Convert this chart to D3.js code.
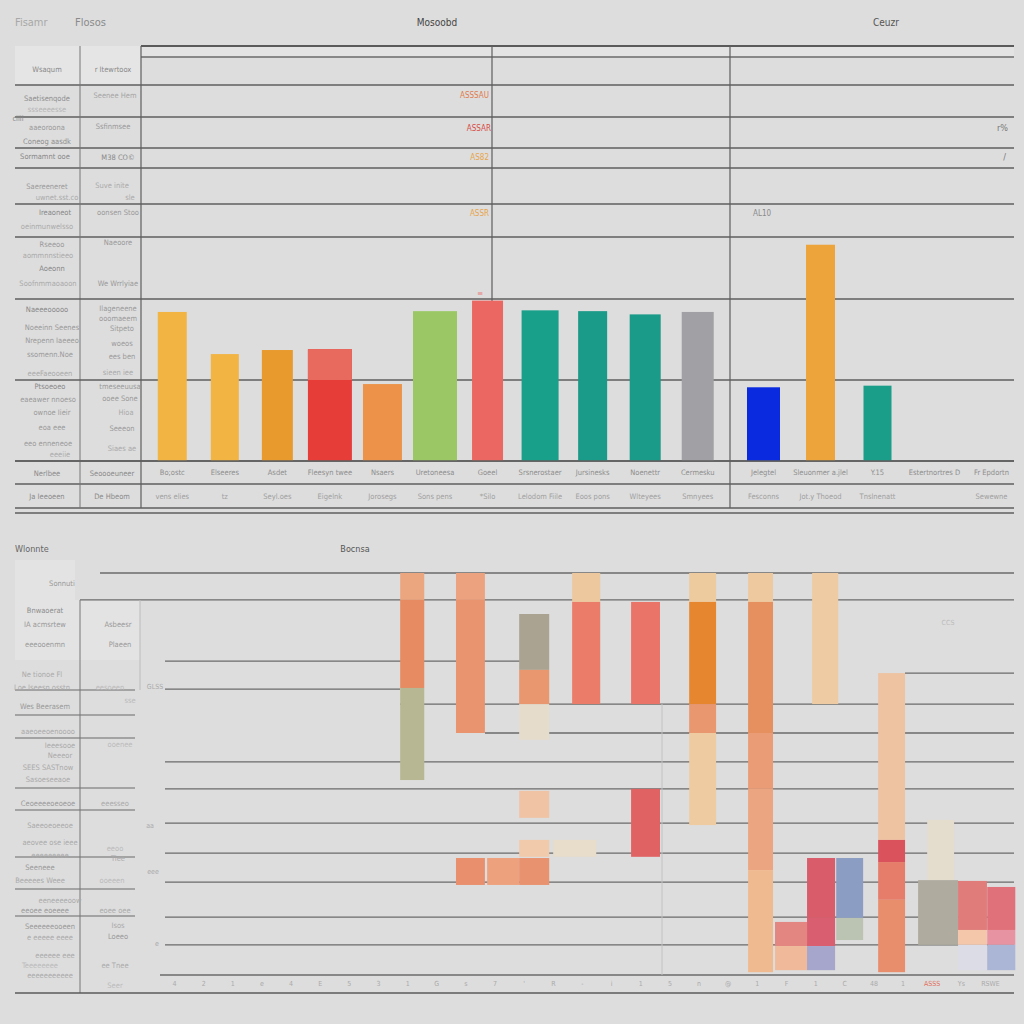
<!DOCTYPE html>
<html><head><meta charset="utf-8">
<script src="https://cdn.jsdelivr.net/npm/d3@7"></script>
<style>
body{margin:0;background:#dddddd}
svg{display:block}
text{font-family:'Liberation Sans Narrow','DejaVu Sans Condensed','Liberation Sans',sans-serif}
</style></head>
<body><svg id="c" width="1024" height="1024"></svg>
<script>
// ---------- DATA: top chart ----------
const topCategories = ["Bo;ostc","Elseeres","Asdet","Fleesyn twee","Nsaers","Uretoneesa","Goeel","Srsnerostaer","Jursinesks","Noenettr","Cermesku","Jelegtel","Sleuonmer a.jlel","Y.15","Estertnortres D","Fr Epdortn"];
const topSubLabels = ["vens elies","tz","Seyl.oes","Eigelnk","Jorosegs","Sons pens","*Silo","Lelodom Fiile","Eoos pons","Wlteyees","Smnyees","Fesconns","Jot.y Thoeod","Tnslnenatt","","Sewewne"];
const topValues = [184,132,137,138,95,185,198,186,185,181,184,91,267,93,null,null];
const topGridValues = [0,100,200];

// ---------- DATA: bottom chart ----------
const bottomColumns = ["A","B","BC","C","CD","D","E","F","G","K1","K2","H","K3","I","R1","R1b","R2","R3"];
const columnStart = [8.30,10.27,11.37,12.50,13.70,14.37,16.45,18.50,20.58,21.53,22.66,22.84,23.69,25.17,26.58,26.90,27.99,29.02];
const columnWidth = [0.85,1.02,1.13,1.06,1.52,0.99,1.02,0.95,0.88,1.13,0.99,0.92,0.95,0.95,1.41,0.95,1.02,0.99];
const segColumn = ["C","CD","R1b","A","A","A","B","B","B","BC","C","C","C","C","C","D","D","E","E","F","F","F","F","G","G","G","G","G","K1","K1","K2","K2","K2","H","K3","K3","I","I","I","I","R1","R2","R2","R2","R3","R3","R3"];
const segLow  = [58.5,29.4,23.6, 93.3,71.4,48.5, 93.3,60.2,22.4, 22.4, 75.9,67.4,39.1,29.4,22.4, 92.8,67.4, 67.4,29.4, 92.8,67.4,60.2,37.3, 92.8,60.2,46.3,26.1,0.7, 7.2,1.2, 14.2,7.2,1.2, 67.4, 14.2,8.7, 33.6,28.1,18.7,0.7, 7.5, 11.2,7.5,1.2, 11.2,7.5,1.2];
const segHigh = [67.4,33.6,38.6, 100,93.3,71.4, 100,93.3,29.1, 29.1, 89.8,75.9,45.8,33.6,29.1, 100,92.8, 92.8,46.3, 100,92.8,67.4,60.2, 100,92.8,60.2,46.3,26.1, 13.2,7.2, 29.1,14.2,7.2, 100, 29.1,14.2, 75.1,33.6,28.1,18.7, 23.6, 23.4,11.2,7.5, 21.9,11.2,7.5];
const bottomGridValues = [100,93.3,78.1,75.1,71.1,67.4,60.2,53.0,46.3,37.8,30.3,23.1,14.4,7.5,0];
const bottomTickLabels = ["4","2","1","e","4","E","5","3","1","G","s","7","'","R","-","i","1","5","n","@","1","F","1","C","48","1","ASSS","Ys","RSWE"];

// ---------- STYLE ----------
const topColors = ["#f2b443","#f2b443","#e99a2d","#e63d39","#ec9349","#9bc864","#ea6861","#18a08b","#1a9a88","#1a9a88","#a1a0a4","#0a2ae0","#eca43b","#1a9e8a"];
const topUpperColors = [null,null,null,"#e8695d",null,null,null,null,null,null,null,null,null,null];
const topBarWidths = [29,28,31,44,39,44,31,37,29,31,32,33,29,28];
const segColors = ["#e6dccc","#e8dccb","#e4dccd","#eba680","#e68b62","#b8b794","#eca27f","#e9936f","#e98f6d","#eea17d","#aaa391","#e9976f","#f0c3a4","#f1caab","#e8926f","#edc89f","#eb7c69","#eb7468","#e06262","#eeca9f","#e6862f","#e9976f","#efcba2","#eec99f","#e69060","#e99c76","#eba580","#f0ba90","#e38682","#f0ba9a","#d95c6b","#d95e70","#a6a6cc","#eecba2","#8b9dc2","#bbc3b2","#eec3a2","#d9525c","#e67d6b","#e88e6c","#afab9e","#e07c7a","#f4c6aa","#dcdce6","#e07079","#e893a2","#abb5d5"];
const gridX0 = [100,80,165,905,165,400,485,165,165,165,165,165,165,165,160];
const gridX1 = [1014,1014,520,1014,400,1014,1014,1014,1014,1014,1014,1014,1014,1014,1014];

const svg = d3.select("#c");
const LINE = "#5e5e5e";
function txt(x,y,s,o={}){
  return svg.append("text").attr("x",x).attr("y",y).text(s)
    .attr("font-size",o.size||8).attr("fill",o.fill||"#9a9a9a")
    .attr("text-anchor",o.anchor||"middle").attr("font-weight",o.weight||"normal");
}
function hline(y,x0,x1,w,c){svg.append("line").attr("x1",x0).attr("x2",x1).attr("y1",y).attr("y2",y).attr("stroke",c||LINE).attr("stroke-width",w||1.3);}
function vline(x,y0,y1,w,c){svg.append("line").attr("x1",x).attr("x2",x).attr("y1",y0).attr("y2",y1).attr("stroke",c||LINE).attr("stroke-width",w||1.2);}

// ---------- Titles ----------
txt(15,26,"Fisamr",{size:11,fill:"#a8a8a8",anchor:"start"});
txt(75,26,"Flosos",{size:11,fill:"#8a8a8a",anchor:"start"});
txt(437,26,"Mosoobd",{size:10,fill:"#444"});
txt(886,26,"Ceuzr",{size:10,fill:"#555"});

// ---------- Top table ----------
svg.append("rect").attr("x",15).attr("y",46).attr("width",126).attr("height",39).attr("fill","#e5e5e5");
svg.append("rect").attr("x",141).attr("y",46).attr("width",873).attr("height",11).attr("fill","#e3e3e3");
const topRows = [85,117,148,168,204,237,461,484,508,513];
hline(46,141,1014,2,"#5a5a5a");
hline(57,141,1014,1.3,"#6a6a6a");
topRows.forEach(y=>hline(y,15,1014,1.4));
vline(80,46,508,1,"#777");
vline(141,46,508,1.2);
vline(492,46,301,1.2);
vline(730,46,508,1.2);

// ---------- Top chart ----------
const yTop = d3.scaleLinear().domain([0,100]).range([461,380]);
topGridValues.filter(v=>v>0).forEach(v=>hline(yTop(v),15,1014,1.4));
const xG1 = d3.scaleBand().domain(topCategories.slice(0,11)).range([146,724]);
const xG2 = d3.scaleBand().domain(topCategories.slice(11)).range([735,1020]);
const xCenter = (c,i)=> i<11 ? xG1(c)+xG1.bandwidth()/2 : xG2(c)+xG2.bandwidth()/2;

topCategories.forEach((c,i)=>{
  const v = topValues[i];
  if(v==null) return;
  const w = topBarWidths[i], cx = xCenter(c,i);
  svg.append("rect").attr("x",cx-w/2).attr("width",w)
    .attr("y",yTop(v)).attr("height",yTop(0)-yTop(v)).attr("fill",topColors[i]);
  if(topUpperColors[i] && v>100){
    svg.append("rect").attr("x",cx-w/2).attr("width",w)
      .attr("y",yTop(v)).attr("height",yTop(100)-yTop(v)).attr("fill",topUpperColors[i]);
  }
});
hline(yTop(0),15,1014,1.5);
topCategories.forEach((c,i)=>{
  txt(xCenter(c,i),475,c,{size:7.5,fill:"#8e8e8e"});
  txt(xCenter(c,i),499,topSubLabels[i],{size:7.5,fill:"#a0a0a0"});
});
txt(480,296,"≡",{size:8,fill:"#e98080"});

// value annotations
txt(489,98,"ASSSAU",{size:8,fill:"#e07a4a",anchor:"end"});
txt(491,131,"ASSAR",{size:8,fill:"#d94a42",anchor:"end"});
txt(489,160,"AS82",{size:8,fill:"#e8a448",anchor:"end"});
txt(489,216,"ASSR",{size:8,fill:"#e8a448",anchor:"end"});
txt(753,216,"AL10",{size:8,fill:"#8a8a8a",anchor:"start"});
txt(1008,131,"r%",{size:9,fill:"#777",anchor:"end"});
txt(1006,160,"/",{size:9,fill:"#777",anchor:"end"});

// left table text (top)
const L = (x,y,s,f)=>txt(x,y,s,{size:7.5,fill:f||"#9a9a9a"});
L(47,72,"Wsaqum","#8a8a8a"); L(113,72,"r Itewrtoox","#8a8a8a");
L(47,101,"Saetisenqode","#8e8e8e"); L(47,112,"ssseeeesse","#b5b5b5"); L(115,98,"Seenee Hem","#a5a5a5");
L(18,121,"ciiii","#8a8a8a"); L(47,130,"aaeoroona"); L(47,144,"Coneog aasdk","#8e8e8e"); L(113,129,"Ssfinmsee","#999");
L(45,159,"Sormamnt ooe","#888"); L(118,160,"M38 CO©","#888");
L(47,189,"Saereeneret"); L(57,200,"uwnet.sst.co","#aaa"); L(112,188,"Suve inite","#aaa"); L(130,200,"sle","#aaa");
L(55,215,"Ireaoneot","#888"); L(47,229,"oeinmunwelsso","#aaa"); L(118,215,"oonsen Stoo","#999");
L(52,247,"Rseeoo","#999"); L(48,258,"aommnnstieeo","#aaa"); L(52,271,"Aoeonn","#888"); L(48,286,"Soofnmmaoaoon","#aaa");
L(118,245,"Naeoore","#999"); L(118,286,"We Wrrlyiae","#999");
L(47,312,"Naeeeooooo","#888"); L(52,330,"Noeeinn Seenes"); L(52,343,"Nrepenn Iaeeeo"); L(50,357,"ssomenn.Noe");
L(50,376,"eeeFaeooeen","#aaa");
L(118,311,"Ilageneene"); L(118,321,"ooomaeem"); L(122,331,"Sitpeto"); L(122,346,"woeos"); L(122,359,"ees ben"); L(118,375,"sieen iee","#aaa");
L(50,389,"Ptsoeoeo","#888"); L(48,402,"eaeawer nnoeso"); L(52,415,"ownoe Iieir"); L(52,430,"eoa eee"); L(48,446,"eeo enneneoe"); L(60,457,"eeeiie","#aaa");
L(120,389,"tmeseeuusa"); L(120,401,"ooee Sone"); L(126,415,"Hioa","#aaa"); L(122,431,"Seeeon"); L(122,451,"Siaes ae","#aaa");
L(47,476,"Nerlbee","#8a8a8a"); L(112,476,"Seoooeuneer","#8a8a8a");
L(47,499,"Ja Ieeoeen","#8a8a8a"); L(112,499,"De Hbeom","#8a8a8a");

// ---------- Bottom section ----------
txt(15,552,"Wlonnte",{size:9,fill:"#666",anchor:"start"});
txt(355,552,"Bocnsa",{size:9,fill:"#555"});
svg.append("rect").attr("x",15).attr("y",560).attr("width",60).attr("height",40).attr("fill","#e3e3e3");
svg.append("rect").attr("x",15).attr("y",600).attr("width",125).attr("height",60).attr("fill","#e3e3e3");

const yBot = d3.scaleLinear().domain([0,100]).range([975,573]);
const xBot = d3.scaleLinear().domain([0,30]).range([165,1015]);

bottomGridValues.forEach((v,i)=>hline(yBot(v),gridX0[i],gridX1[i],1.3,"#6a6a6a"));
[690,715,738,788,810,857,889,916].forEach(y=>hline(y,15,135,1.2,"#6a6a6a"));
vline(80,600,993,1,"#777");
vline(140,600,690,1,"#bbb");
vline(662,704,975,1,"#c2c2c2");
hline(993,15,1014,1.6,"#5a5a5a");

segColumn.forEach((col,i)=>{
  const ci = bottomColumns.indexOf(col);
  svg.append("rect")
    .attr("x",xBot(columnStart[ci])).attr("width",xBot(columnWidth[ci])-xBot(0))
    .attr("y",yBot(segHigh[i])).attr("height",yBot(segLow[i])-yBot(segHigh[i]))
    .attr("fill",segColors[i]);
});

const xTicks = d3.scalePoint().domain(bottomTickLabels.map((d,i)=>i)).range([174,990]);
const axis = svg.append("g").attr("transform","translate(0,978)")
  .call(d3.axisBottom(xTicks).tickSize(0).tickFormat(i=>bottomTickLabels[i]));
axis.select(".domain").remove();
axis.selectAll("text").attr("font-size",7).attr("fill",(d)=>bottomTickLabels[d]==="ASSS"?"#e07060":"#aaa")
  .attr("font-family","'Liberation Sans Narrow','DejaVu Sans Condensed',sans-serif");

txt(155,689,"GLSS",{size:7,fill:"#aaa"});
txt(150,828,"aa",{size:7,fill:"#aaa"});
txt(153,874,"eee",{size:7,fill:"#aaa"});
txt(157,946,"e",{size:7,fill:"#aaa"});
txt(948,625,"CCS",{size:7,fill:"#bbb"});

const B = (x,y,s,f)=>txt(x,y,s,{size:7.5,fill:f||"#a0a0a0"});
B(62,586,"Sonnuti","#999");
B(45,613,"Bnwaoerat","#8e8e8e"); B(45,627,"IA acmsrtew","#999"); B(118,627,"Asbeesr","#999");
B(45,647,"eeeooenmn","#999"); B(120,647,"Plaeen","#999");
B(42,677,"Ne tionoe Fl","#aaa"); B(42,690,"Loe Iseesn osstn","#aaa"); B(110,690,"eesoeen","#bbb");
B(45,709,"Wes Beerasem","#999"); B(130,703,"sse","#bbb");
B(48,734,"aaeoeeoenoooo","#aaa"); B(120,747,"ooenee","#bbb");
B(60,748,"Ieeesooe","#aaa"); B(60,758,"Neeeor","#aaa");
B(48,770,"SEES SASTnow","#aaa"); B(48,782,"Sasoeseeaoe","#aaa");
B(48,806,"Ceoeeeeoeoeoe","#999"); B(115,806,"eeesseo","#aaa");
B(50,828,"Saeeoeoeeoe","#aaa");
B(50,845,"aeovee ose ieee","#aaa"); B(50,858,"eeeeeeeee","#aaa"); B(115,851,"eeoo","#bbb"); B(118,861,"Tiee","#aaa");
B(40,870,"Seeneee","#999"); B(40,883,"Beeeees Weee","#aaa"); B(112,883,"ooeeen","#bbb");
B(60,903,"eeneeeeoow","#aaa"); B(45,913,"eeoee eoeeee","#999"); B(115,913,"eoee oee","#aaa");
B(50,929,"Seeeeeeooeen","#999"); B(50,940,"e eeeee eeee","#aaa"); B(118,928,"Isos","#aaa"); B(118,939,"Loeeo","#999");
B(55,958,"eeeeee eee","#aaa"); B(40,968,"Teeeeeeee","#bbb"); B(50,978,"eeeeeeeeeee","#aaa"); B(115,968,"ee Tnee","#aaa"); B(115,988,"Seer","#bbb");
</script>
</body></html>
